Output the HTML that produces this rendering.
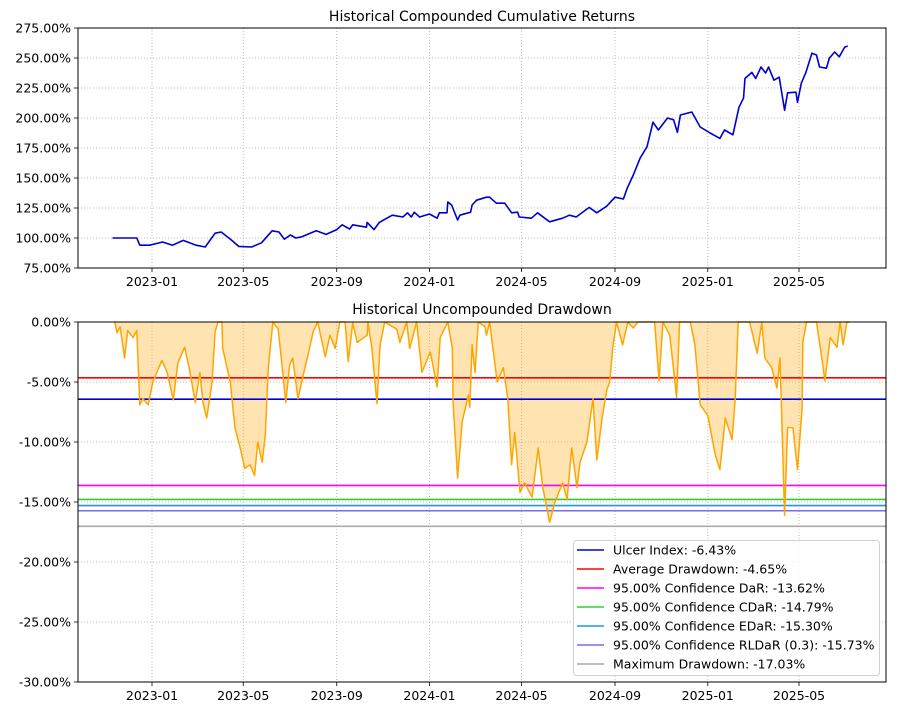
<!DOCTYPE html>
<html><head><meta charset="utf-8">
<style>
body{margin:0;background:#fff;}
svg{display:block;font-family:"DejaVu Sans","Liberation Sans",sans-serif;}
</style></head>
<body>
<svg id="chart" width="919" height="716" viewBox="0 0 919 716" xmlns="http://www.w3.org/2000/svg"></svg>
<script>
// ---------- data ----------
const cumDates = ["2022-11-10","2022-12-12","2022-12-16","2022-12-29","2023-01-15","2023-01-28","2023-02-11","2023-02-28","2023-03-12","2023-03-25","2023-04-02","2023-04-16","2023-04-25","2023-05-12","2023-05-25","2023-06-08","2023-06-17","2023-06-24","2023-07-02","2023-07-09","2023-07-17","2023-08-05","2023-08-18","2023-09-01","2023-09-08","2023-09-18","2023-09-22","2023-10-10","2023-10-11","2023-10-20","2023-10-27","2023-11-13","2023-11-27","2023-12-03","2023-12-08","2023-12-12","2023-12-19","2024-01-01","2024-01-11","2024-01-14","2024-01-24","2024-01-25","2024-01-30","2024-02-07","2024-02-10","2024-02-24","2024-02-26","2024-03-03","2024-03-16","2024-03-20","2024-03-29","2024-04-09","2024-04-18","2024-04-26","2024-04-28","2024-05-14","2024-05-22","2024-06-07","2024-06-24","2024-07-03","2024-07-12","2024-07-29","2024-08-08","2024-08-21","2024-09-01","2024-09-12","2024-09-17","2024-09-25","2024-10-04","2024-10-13","2024-10-21","2024-10-28","2024-11-09","2024-11-17","2024-11-22","2024-11-26","2024-12-11","2024-12-22","2025-01-04","2025-01-17","2025-01-23","2025-02-03","2025-02-11","2025-02-17","2025-02-19","2025-02-28","2025-03-05","2025-03-12","2025-03-18","2025-03-22","2025-03-29","2025-04-05","2025-04-12","2025-04-16","2025-04-27","2025-04-29","2025-05-04","2025-05-10","2025-05-18","2025-05-24","2025-05-28","2025-06-06","2025-06-10","2025-06-17","2025-06-23","2025-06-30","2025-07-04"];
const cumValues = [100,100,94,94,96.7,94,98,94,92.5,104,105,98,93,92.5,96,106,105,99,102.5,100,101,106,103,107,111,107.5,111,109,113,107,113,119,117.5,121,117.5,121.5,117.5,120,116.5,121,121,130,127.5,115,119,121.5,127.5,131.5,134,134,129,129,121,121.5,117.5,116.5,121,113.5,116.5,119,117.5,125.5,121,126.5,134,132.5,141.5,152.5,166.5,176,196.5,190,200,198.5,188,202.5,205,192.5,187.5,183,190,186,209,216.5,233,238,233,242.5,237.5,242.5,231.5,234,206.5,221,221.5,213,229,238,254,252.5,242.5,241.5,250,255,251,259,260];
const ddBaseDate = "2023-01-01";
const ddDays = [-49,-46,-42,-36,-32,-25,-20,-16,-12,-5,1,13,20,28,34,43,50,57,63,67,72,79,83,87,92,93,103,109,116,122,129,135,139,145,149,153,159,166,171,176,181,185,192,199,205,212,218,228,234,241,247,254,258,264,270,283,284,289,296,300,306,322,326,335,339,348,355,366,375,379,389,395,396,402,408,416,418,421,425,429,438,440,444,454,462,468,473,477,484,490,500,508,514,523,530,540,546,552,559,563,572,580,585,592,598,602,606,611,619,626,633,639,661,667,672,681,690,694,708,714,721,731,741,747,754,763,767,771,786,796,802,806,815,822,826,832,836,843,849,855,856,861,874,881,885,892,901,905,909,914,918];
const ddValues = [0,0.9,0.4,3.0,0.7,1.3,0.7,6.9,6.4,6.9,5.0,3.2,4.2,6.5,3.4,2.1,4.2,6.7,4.2,6.7,8.0,5.0,0.8,0,0,2.2,5.0,8.8,10.5,12.2,11.9,12.8,10.0,11.7,9.4,3.8,0,0.6,3.6,6.7,3.6,3.0,6.4,4.4,2.8,0.8,0,2.9,1.1,2.2,0,0,3.3,0.1,1.7,1.1,0,2.1,6.8,1.9,0,0.6,1.7,0,2.2,0,4.2,2.5,5.4,1.3,0,2.2,6.7,13.0,8.3,6.1,7.1,1.9,4.2,0,0.4,1.1,0,5.0,3.8,6.4,11.9,9.2,14.2,13.4,14.6,10.5,13.8,16.7,15.0,13.4,14.8,10.5,13.8,11.7,10.0,6.4,11.5,8.0,5.7,5.0,2.2,0,1.9,0,0.5,0,0,4.9,0,1.1,6.3,0,0,1.9,6.9,7.8,11.1,12.3,8.0,9.8,6.4,0,0,2.6,0,3.0,3.8,5.5,3.0,16.1,8.8,8.8,12.3,7.2,1.7,0,0,3.0,4.9,1.3,2.1,0,1.9,0,0];
const riskNames = ["Ulcer Index","Average Drawdown","95.00% Confidence DaR","95.00% Confidence CDaR","95.00% Confidence EDaR","95.00% Confidence RLDaR (0.3)","Maximum Drawdown"];
const riskValues = [6.43,4.65,13.62,14.79,15.30,15.73,17.03];
const riskColors = ["#0000cd","#ff0000","#ff00ff","#32cd32","#1e90ff","#7b68ee","#a9a9a9"];
const xTickLabels = ["2023-01","2023-05","2023-09","2024-01","2024-05","2024-09","2025-01","2025-05"];
const topTicks = [75,100,125,150,175,200,225,250,275];
const botTicks = [0,-5,-10,-15,-20,-25,-30];

// ---------- scales ----------
const L=78,R=886;
const T1=28,B1=268,T2=322,B2=682;
const DAY=86400000, T0=Date.UTC(2023,0,1), PXD=0.7603;
function tms(s){const p=s.split('-');return Date.UTC(+p[0],+p[1]-1,+(p[2]||1));}
function xS(t){return 152+(t-T0)/DAY*PXD;}
function y1(v){return B1-(v-75)/200*(B1-T1);}
function y2d(dd){return T2+dd/30*(B2-T2);}
const svg=document.getElementById('chart');
const NS="http://www.w3.org/2000/svg";
function mk(tag,attrs,parent){const e=document.createElementNS(NS,tag);for(const k in attrs)e.setAttribute(k,attrs[k]);(parent||svg).appendChild(e);return e;}

function axes(T,B,yticks,yfn,fmt,name){
  const g=mk('g',{});
  
  
  xTickLabels.forEach(s=>{
    const x=xS(tms(s));
    const gl=mk('line',{x1:x,x2:x,y1:T,y2:B,stroke:'#b0b0b0','stroke-width':0.8,'stroke-dasharray':'1,2'},g);
    
    
    mk('line',{x1:x,x2:x,y1:B,y2:B+4,stroke:'#000','stroke-width':0.8},g);
    const t=mk('text',{x:x,y:B+18,'font-size':12.5,'text-anchor':'middle',fill:'#000'},g);
    t.textContent=s;
    
    
  });
  yticks.forEach(v=>{
    const y=yfn(v);
    const gl=mk('line',{x1:L,x2:R,y1:y,y2:y,stroke:'#b0b0b0','stroke-width':0.8,'stroke-dasharray':'1,2'},g);
    
    
    mk('line',{x1:L-4,x2:L,y1:y,y2:y,stroke:'#000','stroke-width':0.8},g);
    const t=mk('text',{x:L-7,y:y+4.5,'font-size':12.5,'text-anchor':'end',fill:'#000'},g);
    t.textContent=fmt(v);
    
    
  });
  return g;
}

// ---------- top chart ----------
const tt=mk('text',{x:(L+R)/2,y:21,'font-size':14,'text-anchor':'middle'});
tt.textContent="Historical Compounded Cumulative Returns";


axes(T1,B1,topTicks,y1,v=>v.toFixed(2)+'%','returns');
let d='';
cumDates.forEach((s,i)=>{d+=(i?'L':'M')+xS(tms(s)).toFixed(1)+','+y1(cumValues[i]).toFixed(1);});
const cl=mk('path',{d:d,fill:'none',stroke:'#0000cd','stroke-width':1.6,'stroke-linejoin':'round'});


const f1=mk('rect',{x:L,y:T1,width:R-L,height:B1-T1,fill:'none',stroke:'#000','stroke-width':1});



// ---------- bottom chart ----------
const bt=mk('text',{x:(L+R)/2,y:314,'font-size':14,'text-anchor':'middle'});
bt.textContent="Historical Uncompounded Drawdown";


axes(T2,B2,botTicks,v=>y2d(-v),v=>v.toFixed(2)+'%','drawdown');
const base=tms(ddBaseDate);
let dl='',xs=[];
ddDays.forEach((dd,i)=>{const x=xS(base+dd*DAY);xs.push(x);dl+=(i?'L':'M')+x.toFixed(1)+','+y2d(ddValues[i]).toFixed(1);});
const fa=mk('path',{d:dl+'L'+xs[xs.length-1].toFixed(1)+','+T2+'L'+xs[0].toFixed(1)+','+T2+'Z',fill:'#ffa500','fill-opacity':0.3,stroke:'none'});


riskValues.forEach((v,i)=>{
  const y=y2d(v);
  const ln=mk('line',{x1:L,x2:R,y1:y,y2:y,stroke:riskColors[i],'stroke-width':1.6});
  
  
});
const dln=mk('path',{d:dl,fill:'none',stroke:'#ffa500','stroke-width':1.5,'stroke-linejoin':'round'});


const f2=mk('rect',{x:L,y:T2,width:R-L,height:B2-T2,fill:'none',stroke:'#000','stroke-width':1});



// legend
const lg=mk('g',{});


mk('rect',{x:573.5,y:540.5,width:306,height:135,rx:3,fill:'#fff','fill-opacity':0.85,stroke:'#d0d0d0','stroke-width':1},lg);
riskNames.forEach((n,i)=>{
  const y=550+i*19;
  const e=mk('g',{},lg);
  
  
  mk('line',{x1:577,x2:604,y1:y,y2:y,stroke:riskColors[i],'stroke-width':1.6},e);
  const t=mk('text',{x:613,y:y+4.5,'font-size':12.5,fill:'#000'},e);
  t.textContent=n+': -'+riskValues[i].toFixed(2)+'%';
});
</script>
</body></html>
